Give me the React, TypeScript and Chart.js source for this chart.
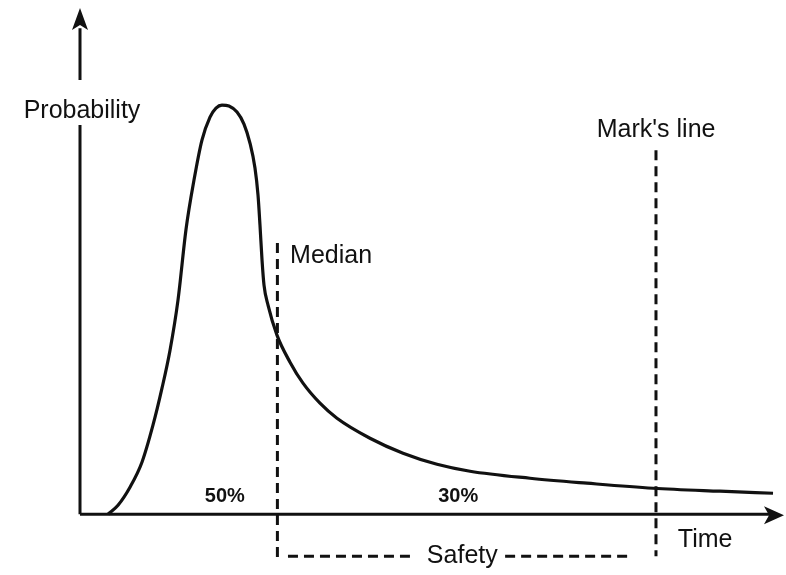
import React, { useEffect, useRef } from "react";
import { Chart, registerables } from "chart.js";

Chart.register(...registerables);

// Time (arbitrary units 0..100) and probability (arbitrary units 0..100)
const curveTime = [3.97, 5.39, 7.09, 8.79, 10.35, 11.63, 12.77, 13.9, 15.04, 16.17, 17.3, 18.44, 19.29, 20.14, 21.13, 22.27, 23.26, 24.11, 24.82, 25.25, 25.53, 25.82, 26.1, 26.67, 27.94, 29.79, 31.63, 34.04, 36.45, 41.13, 45.82, 50.64, 55.32, 63.83, 71.91, 81.28, 90.78, 98.3];
const curveProb = [0, 1.78, 5.34, 10.28, 17.59, 24.9, 32.41, 42.29, 56.3, 66.01, 73.91, 78.46, 80.24, 80.83, 80.63, 79.45, 77.08, 73.32, 68.38, 63.04, 57.11, 50.2, 45.26, 41.3, 35.38, 30.04, 25.89, 21.94, 18.97, 15.02, 12.06, 9.88, 8.5, 7.11, 6.13, 5.14, 4.55, 4.15];

const medianTime = 28;
const medianSpan = [53.6, -8.5];
const marksTime = 81.7;
const marksSpan = [71.9, -8.3];
const safetyLevel = -8.3;
const safetyLeft = [29.5, 46.8];
const safetyRight = [60.3, 78.4];

const axisLabels = { y: "Probability", x: "Time" };
const lineLabels = ["Median", "Mark's line"];
const shareLabels = ["50%", "30%"];
const safetyLabel = "Safety";

const X_MIN = 0, X_MAX = 100, Y_MIN = -12, Y_MAX = 100;
const INK = "#111";
const FONT = "Liberation Sans, Arial, sans-serif";

const overlay = {
  id: "overlay",
  afterDatasetsDraw(chart: any) {
    const { ctx } = chart;
    const xs = chart.scales.x, ys = chart.scales.y;
    const X = (v: number) => xs.getPixelForValue(v);
    const Y = (v: number) => ys.getPixelForValue(v);
    ctx.save();
    ctx.strokeStyle = INK;
    ctx.fillStyle = INK;
    ctx.lineWidth = 3;
    ctx.setLineDash([]);
    // y axis with gap for label
    const ax = X(0), ay = Y(0);
    ctx.beginPath();
    ctx.moveTo(ax, ay);
    ctx.lineTo(ax, Y(76.9));
    ctx.moveTo(ax, Y(85.8));
    ctx.lineTo(ax, Y(96));
    ctx.stroke();
    // y arrow
    const tipY = Y(100);
    ctx.beginPath();
    ctx.moveTo(ax, tipY);
    ctx.lineTo(ax - 8, tipY + 22);
    ctx.lineTo(ax, tipY + 17);
    ctx.lineTo(ax + 8, tipY + 22);
    ctx.closePath();
    ctx.fill();
    // x axis
    const tipX = X(X_MAX) - 1;
    ctx.beginPath();
    ctx.moveTo(ax, ay);
    ctx.lineTo(tipX - 10, ay);
    ctx.stroke();
    ctx.beginPath();
    ctx.moveTo(tipX, ay + 1);
    ctx.lineTo(tipX - 20, ay - 8);
    ctx.lineTo(tipX - 15, ay + 1);
    ctx.lineTo(tipX - 20, ay + 10);
    ctx.closePath();
    ctx.fill();

    // texts
    ctx.textBaseline = "alphabetic";
    ctx.font = `25px ${FONT}`;
    ctx.textAlign = "center";
    ctx.fillText(axisLabels.y, ax + 2, Y(78.3));
    ctx.textAlign = "left";
    ctx.fillText(lineLabels[0], X(29.8), Y(49.6));
    ctx.fillText(lineLabels[1], X(73.3), Y(74.5));
    ctx.fillText(axisLabels.x, X(84.8), Y(-6.5));
    ctx.fillText(safetyLabel, X(49.2), Y(-9.7));
    ctx.font = `bold 20px ${FONT}`;
    ctx.fillText(shareLabels[0], X(17.7), Y(2.4));
    ctx.fillText(shareLabels[1], X(50.8), Y(2.4));
    ctx.restore();
  },
};

export default function App() {
  const ref = useRef<HTMLCanvasElement>(null);
  useEffect(() => {
    if (!ref.current) return;
    const dashed = {
      borderColor: INK,
      borderWidth: 3,
      borderDash: [10, 6],
      pointRadius: 0,
      fill: false,
      clip: false as any,
    };
    const chart = new Chart(ref.current, {
      type: "line",
      data: {
        datasets: [
          {
            data: curveTime.map((t, i) => ({ x: t, y: curveProb[i] })),
            borderColor: INK,
            borderWidth: 3.2,
            pointRadius: 0,
            cubicInterpolationMode: "monotone",
            fill: false,
            clip: false as any,
          } as any,
          { ...dashed, data: medianSpan.map((v) => ({ x: medianTime, y: v })) },
          { ...dashed, data: marksSpan.map((v) => ({ x: marksTime, y: v })) },
          { ...dashed, data: safetyLeft.map((v) => ({ x: v, y: safetyLevel })) },
          { ...dashed, data: safetyRight.map((v) => ({ x: v, y: safetyLevel })) },
        ],
      },
      options: {
        responsive: false,
        animation: false,
        devicePixelRatio: 1,
        layout: { padding: { left: 80, right: 1, top: 8, bottom: 0 } },
        plugins: { legend: { display: false }, tooltip: { enabled: false } },
        scales: {
          x: { type: "linear", min: X_MIN, max: X_MAX, display: false },
          y: { type: "linear", min: Y_MIN, max: Y_MAX, display: false },
        },
      },
      plugins: [overlay],
    });
    return () => chart.destroy();
  }, []);
  return (
    <div style={{ position: "fixed", left: 0, top: 0, width: 786, height: 575, background: "#fff" }}>
      <canvas ref={ref} width={786} height={575} />
    </div>
  );
}
